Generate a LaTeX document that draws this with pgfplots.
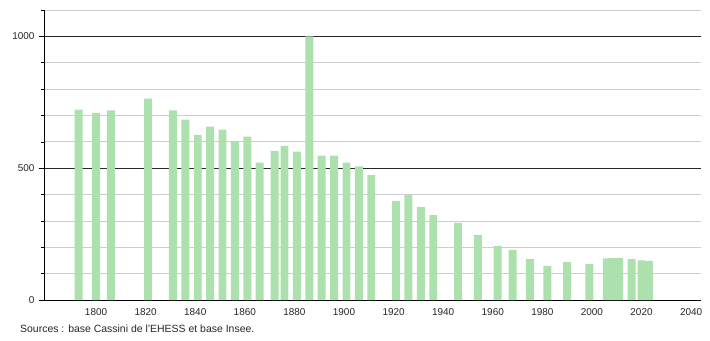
\documentclass[border=0pt]{standalone}
\usepackage{pgfplots}
\pgfplotsset{compat=1.18}
\usepackage{fontspec}
\setmainfont{Liberation Sans}
\definecolor{barg}{RGB}{172,224,172}
\definecolor{mingrid}{RGB}{205,205,205}
\definecolor{majgrid}{RGB}{40,40,40}
\begin{document}
\begin{tikzpicture}[x=1bp,y=1bp]
\useasboundingbox (0,0) rectangle (710,340);
\begin{axis}[
  at={(44bp,40bp)}, anchor=origin,
  scale only axis, width=657bp, height=290bp,
  xmin=1779, xmax=2044, ymin=0, ymax=1100,
  axis lines=left, axis line style={-, black, line width=0.8pt},
  xtick={1800,1820,...,2040},
  ytick={0,500,1000},
  minor ytick={100,200,300,400,600,700,800,900,1100},
  ymajorgrids, yminorgrids,
  major grid style={majgrid, line width=0.8pt},
  minor grid style={mingrid, line width=0.7pt},
  xtick style={draw=none},
  ytick style={black, line width=0.6pt},
  major tick length=5bp, minor tick length=3bp,
  tick align=outside,
  ticklabel style={font=\fontsize{10}{11}\selectfont, text=black!85},
  /pgf/number format/assume math mode=true,
  /pgf/number format/1000 sep={},
  x tick label style={yshift=-0.5bp},
  y tick label style={xshift=-1bp},
  clip=false,
]
\addplot[ybar, bar width=3.2, bar shift=0pt, fill=barg, draw=none] coordinates {
(1793,722) (1800,710) (1806,719) (1821,764) (1831,719) (1836,684)
(1841,626) (1846,658) (1851,646) (1856,601) (1861,620) (1866,521)
(1872,566) (1876,585) (1881,563) (1886,1000) (1891,548) (1896,548)
(1901,521) (1906,507) (1911,475) (1921,376) (1926,398) (1931,353)
(1936,322) (1946,293) (1954,246) (1962,205) (1968,190) (1975,155)
(1982,129) (1990,144) (1999,137) (2006,158) (2008,159) (2011,160)
(2016,155) (2020,150) (2023,148)
};
\end{axis}
\node[anchor=base west, inner sep=0pt, font=\fontsize{10.5}{12}\selectfont, text=black!85] at (20,8) {Sources : base Cassini de l'EHESS et base Insee.};
\end{tikzpicture}
\end{document}
